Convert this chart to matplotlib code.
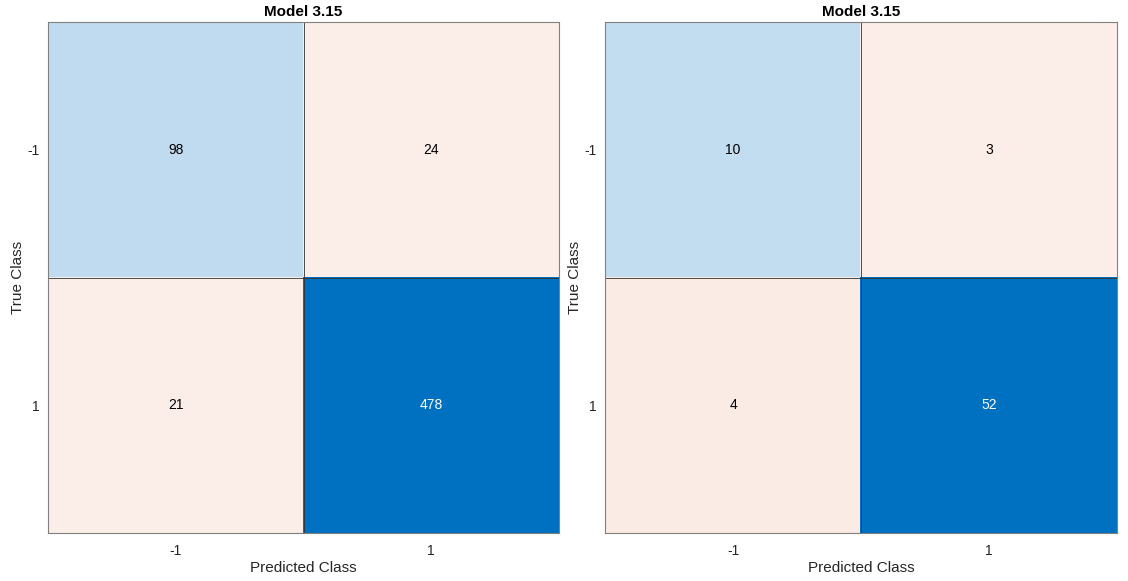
import numpy as np
import matplotlib.pyplot as plt
from matplotlib.colors import to_rgb

plt.rcParams['font.family'] = ['Liberation Sans', 'DejaVu Sans']

classes = ["-1", "1"]
title = "Model 3.15"
cm_left = np.array([[98, 24],
                    [21, 478]])
cm_right = np.array([[10, 3],
                     [4, 52]])

blue = np.array(to_rgb("#0070c0"))
red = np.array(to_rgb("#d9541a"))
white = np.ones(3)


def cell_color(v, vmax, diag):
    t = v / vmax
    if diag:
        t = min(1.0, 0.04 + t)
        return white * (1 - t) + blue * t, t > 0.5
    t = 0.07 + 0.6 * t
    return white * (1 - t) + red * t, False


def draw(ax, cm):
    n = cm.shape[0]
    vmax = cm.max()
    img = np.zeros((n, n, 3))
    for i in range(n):
        for j in range(n):
            c, dark = cell_color(cm[i, j], vmax, i == j)
            img[i, j] = c
            ax.text(j, i, str(cm[i, j]), ha="center", va="center", fontsize=10,
                    color="white" if dark else "black")
    ax.imshow(img, aspect="auto")
    for k in range(n - 1):
        ax.axvline(k + 0.5, color="#333333", lw=0.6)
        ax.axhline(k + 0.5, color="#333333", lw=0.6)
    ax.set_xticks(range(n))
    ax.set_xticklabels(classes, fontsize=10)
    ax.set_yticks(range(n))
    ax.set_yticklabels(classes, fontsize=10)
    ax.tick_params(axis="x", length=0, pad=8, colors="#262626")
    ax.tick_params(axis="y", length=0, pad=6, colors="#262626")
    ax.set_xlabel("Predicted Class", fontsize=11, color="#262626", labelpad=2)
    ax.set_ylabel("True Class", fontsize=11, color="#262626", labelpad=2)
    ax.set_title(title, fontsize=11, fontweight="bold", pad=4)
    for s in ax.spines.values():
        s.set_color("#808080")
        s.set_linewidth(0.8)


fig = plt.figure(figsize=(11.28, 5.81), dpi=100)
ax1 = fig.add_axes([48 / 1128, 1 - 533 / 581, 511 / 1128, 511 / 581])
ax2 = fig.add_axes([605 / 1128, 1 - 533 / 581, 512 / 1128, 511 / 581])
draw(ax1, cm_left)
draw(ax2, cm_right)
fig.savefig("out.png", dpi=100)
